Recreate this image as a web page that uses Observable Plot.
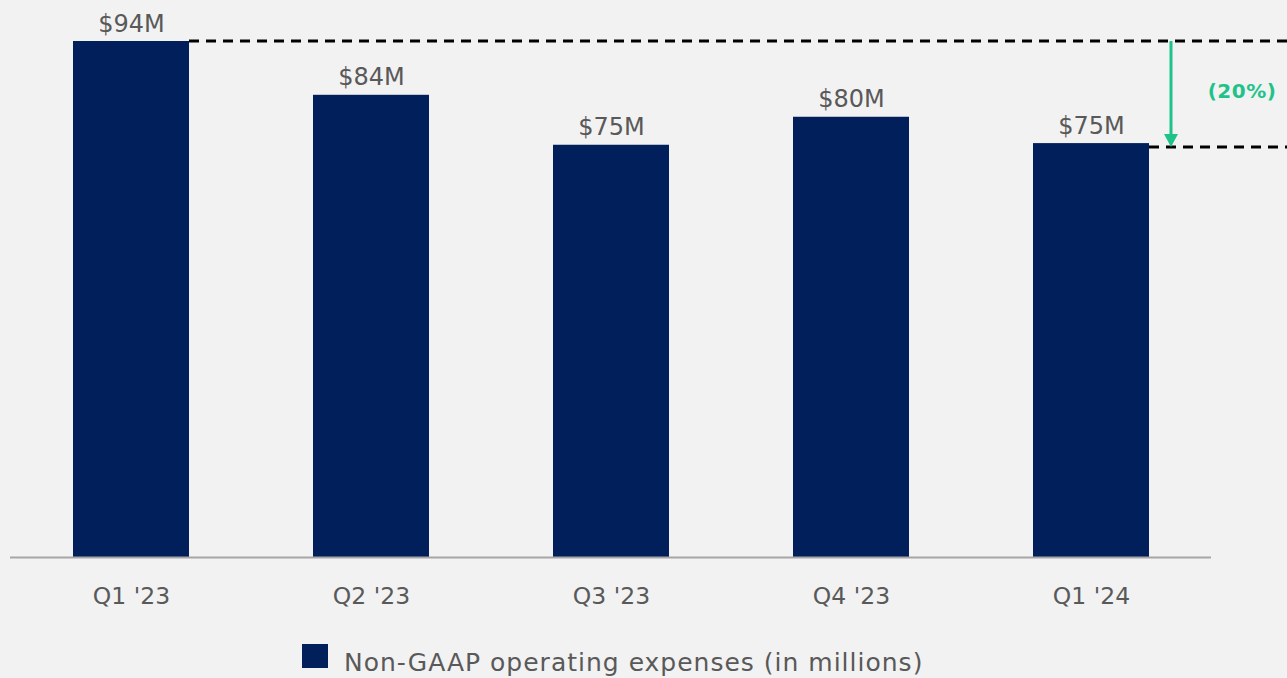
<!DOCTYPE html>
<html>
<head>
<meta charset="utf-8">
<script src="https://cdn.jsdelivr.net/npm/d3@7"></script>
<script src="https://cdn.jsdelivr.net/npm/@observablehq/plot@0.6"></script>
<style>
  html, body { margin: 0; padding: 0; background: #f2f2f2; overflow: hidden; }
  #chart svg { display: block; }
  .legend { position: relative; height: 43px; font-family: "DejaVu Sans", sans-serif; }
  .legend .sw { position: absolute; left: 302px; top: 9px; width: 26px; height: 24px; background: #001f5b; }
  .legend .lb { position: absolute; left: 344px; top: 11px; font-size: 25px; letter-spacing: 1px; color: #595959; line-height: 34px; white-space: nowrap; }
</style>
</head>
<body>
<div id="chart"></div>
<div class="legend"><div class="sw"></div><div class="lb" id="legendLabel"></div></div>
<script>
const categories = ["Q1 '23", "Q2 '23", "Q3 '23", "Q4 '23", "Q1 '24"];
const values = [94, 84.2, 75.1, 80.2, 75.4];
const valueLabels = ["$94M", "$84M", "$75M", "$80M", "$75M"];
const seriesName = "Non-GAAP operating expenses (in millions)";
const changeLabel = "(20%)";
const levelFrom = 94;
const levelTo = 74.7;

const data = categories.map((c, i) => ({cat: c, value: values[i], label: valueLabels[i]}));
const fontFamily = "'DejaVu Sans', sans-serif";
const navy = "#001f5b";
const green = "#1fc38a";
const gray = "#595959";

const chart = Plot.plot({
  width: 1287,
  height: 635,
  marginLeft: 10,
  marginRight: 76,
  marginTop: 41,
  marginBottom: 78,
  style: {background: "#f2f2f2", fontFamily, overflow: "visible"},
  x: {domain: categories, paddingInner: 0.518, paddingOuter: 0.259, label: null},
  y: {domain: [0, 94], axis: null},
  marks: [
    Plot.barY(data, {x: "cat", y: "value", fill: navy}),
    Plot.ruleY([0], {stroke: "#a6a6a6", strokeWidth: 2}),
    Plot.text(data, {x: "cat", y: "value", text: "label", lineAnchor: "bottom", dy: -10, fontSize: 24, fill: gray, style: {letterSpacing: "2.5px"}}),
    Plot.axisX({tickSize: 0, tickPadding: 30, fontSize: 23.5, color: gray, label: null, style: {letterSpacing: "0.3px"}})
  ]
});

document.getElementById("chart").appendChild(chart);
document.getElementById("legendLabel").textContent = seriesName;

// annotation layer using Plot's own scales
const xs = chart.scale("x");
const ys = chart.scale("y");
const svg = d3.select(chart);
const g = svg.append("g");
const bw = xs.bandwidth;
const firstRight = xs.apply(categories[0]) + bw;
const lastRight = xs.apply(categories[categories.length - 1]) + bw;
const yTop = ys.apply(levelFrom);
const yBot = ys.apply(levelTo);

g.append("line").attr("x1", firstRight).attr("x2", 1287).attr("y1", yTop).attr("y2", yTop)
  .attr("stroke", "#000").attr("stroke-width", 3).attr("stroke-dasharray", "10,7");
g.append("line").attr("x1", lastRight).attr("x2", 1287).attr("y1", yBot).attr("y2", yBot)
  .attr("stroke", "#000").attr("stroke-width", 3).attr("stroke-dasharray", "10,7");

const ax = lastRight + 22;
g.append("line").attr("x1", ax).attr("x2", ax).attr("y1", yTop).attr("y2", yBot - 11)
  .attr("stroke", green).attr("stroke-width", 3);
g.append("path").attr("d", `M${ax - 7},${yBot - 13}L${ax + 7},${yBot - 13}L${ax},${yBot}Z`).attr("fill", green);
g.append("text").attr("x", ax + 71).attr("y", (yTop + yBot) / 2 - 1).attr("text-anchor", "middle")
  .attr("dominant-baseline", "middle").attr("font-size", 20).attr("font-weight", "bold")
  .attr("letter-spacing", "0.5px")
  .attr("font-family", fontFamily).attr("fill", green).text(changeLabel);
</script>
</body>
</html>
